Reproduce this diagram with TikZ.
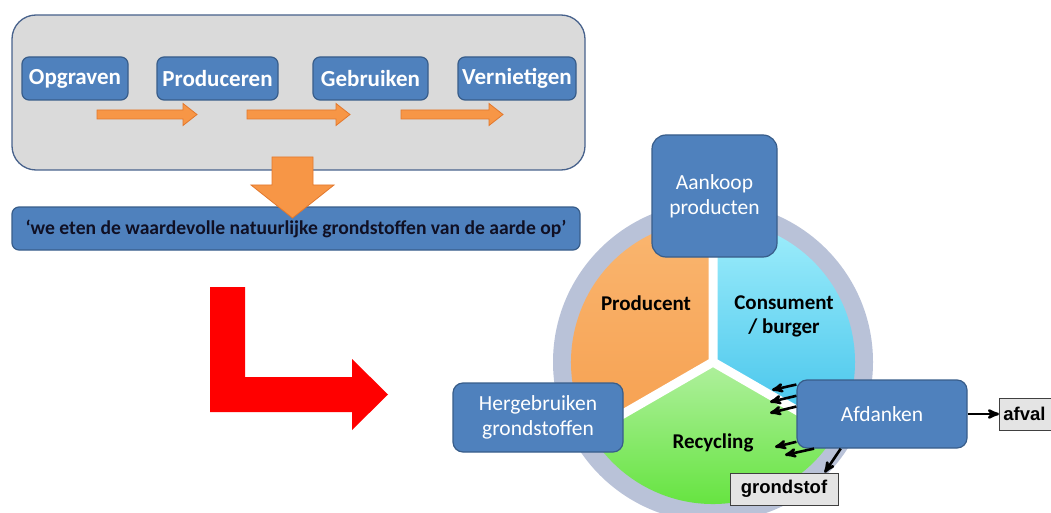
\documentclass[tikz,border=0pt]{standalone}
\usepackage{fontspec}
\setmainfont{Carlito}
\newfontfamily\arialfont{Liberation Sans}
\usetikzlibrary{arrows}

\definecolor{boxblue}{RGB}{79,129,189}
\definecolor{boxedge}{RGB}{56,93,138}
\definecolor{panelgray}{RGB}{218,218,218}
\definecolor{paneledge}{RGB}{72,98,140}
\definecolor{flow}{RGB}{247,150,70}
\definecolor{flowedge}{RGB}{226,120,45}
\definecolor{ringgray}{RGB}{185,194,216}
\definecolor{prodlight}{RGB}{250,182,112}
\definecolor{proddark}{RGB}{246,160,80}
\definecolor{conslight}{RGB}{160,238,252}
\definecolor{consdark}{RGB}{64,194,234}
\definecolor{recylight}{RGB}{176,240,158}
\definecolor{recydark}{RGB}{92,226,52}
\definecolor{quotetext}{RGB}{16,16,36}
\definecolor{taggray}{RGB}{228,228,228}

\begin{document}
\begin{tikzpicture}[x=1pt,y=-1pt,
    procbox/.style={draw=boxedge, line width=1.2pt, fill=boxblue, rounded corners=7pt,
      text=white, font=\fontsize{23}{26}\selectfont\bfseries, minimum height=43pt, inner sep=0pt},
    cyclebox/.style={draw=boxedge, line width=1.2pt, fill=boxblue, rounded corners=10pt,
      text=white, align=center, font=\fontsize{21.5}{25}\selectfont, inner sep=0pt},
    seclabel/.style={text=black, align=center, font=\fontsize{21}{24}\selectfont\bfseries},
    tagbox/.style={draw=black!75, line width=0.8pt, fill=taggray, minimum height=32pt,
      inner xsep=4pt, font=\arialfont\fontsize{18.5}{20}\selectfont\bfseries},
    flowarrow/.style={draw=flowedge, line width=0.8pt, fill=flow},
    smallarr/.style={->, >=stealth', line width=2.6pt, black}]
  \useasboundingbox (0,0) rectangle (1051,513);

  \node[draw=paneledge, line width=1.3pt, fill=panelgray, rounded corners=24pt,
    minimum width=573pt, minimum height=155pt] (panel) at (298.5,92.5) {};
  \node[procbox, minimum width=106pt] (opg) at (75,78.5) {Opgraven};
  \node[procbox, minimum width=121pt] (prod) at (217.5,78.5) {Produceren};
  \node[procbox, minimum width=115pt] (gebr) at (370.5,78.5) {Gebruiken};
  \node[procbox, minimum width=118pt] (vern) at (517,78.5) {Vernietigen};
  \filldraw[flowarrow] (97,110) -- (183,110) -- (183,103.5) -- (197,114.5) -- (183,125.5) -- (183,119) -- (97,119) -- cycle;
  \filldraw[flowarrow] (247,110) -- (336,110) -- (336,103.5) -- (350,114.5) -- (336,125.5) -- (336,119) -- (247,119) -- cycle;
  \filldraw[flowarrow] (401,110) -- (489,110) -- (489,103.5) -- (503,114.5) -- (489,125.5) -- (489,119) -- (401,119) -- cycle;

  \node[draw=boxedge, line width=1.2pt, fill=boxblue, rounded corners=7pt, minimum width=568pt,
    minimum height=43pt, inner sep=0pt, text=quotetext, font=\fontsize{19.6}{22}\selectfont\bfseries]
    (quote) at (296,228.5) {‘we eten de waardevolle natuurlijke grondstoffen van de aarde op’};
  \filldraw[flowarrow] (272,157) -- (313,157) -- (313,185) -- (334,185) -- (292.5,218) -- (251,185) -- (272,185) -- cycle;

  \fill[red] (210,287) -- (245,287) -- (245,377) -- (352,377) -- (352,359) -- (388,394.5)
    -- (352,430) -- (352,412) -- (210,412) -- cycle;

  \coordinate (c) at (713,362);
  \fill[ringgray] (c) circle[radius=160];
  \shade[top color=prodlight, bottom color=proddark] (c) -- ++(150:142) arc[start angle=150, end angle=270, radius=142] -- cycle;
  \shade[top color=conslight, bottom color=consdark] (c) -- ++(270:142) arc[start angle=270, end angle=390, radius=142] -- cycle;
  \shade[top color=recylight, bottom color=recydark] (c) -- ++(30:142) arc[start angle=30, end angle=150, radius=142] -- cycle;
  \draw[white, line width=9pt] (c) -- ++(270:142) (c) -- ++(30:142) (c) -- ++(150:142);
  \node[seclabel] (prodc) at (646,303) {Producent};
  \node[seclabel] (cons) at (784,316) {Consument\\/ burger};
  \node[seclabel] (recy) at (713,443) {Recycling};

  \node[cyclebox, minimum width=125pt, minimum height=122pt, rounded corners=14pt] (aank) at (714.5,196) {Aankoop\\producten};
  \node[cyclebox, minimum width=170pt, minimum height=69pt] (herg) at (538,417.5) {Hergebruiken\\grondstoffen};
  \node[cyclebox, minimum width=170pt, minimum height=68pt] (afd) at (882,414) {Afdanken};

  \node[tagbox, anchor=west, text width=60pt, align=left] (afval) at (999,414) {afval};
  \node[tagbox, minimum width=108pt] (grond) at (784,489) {grondstof};

  \coordinate (r1) at (772,390);
  \coordinate (r2) at (770,402);
  \coordinate (r3) at (770,413);
  \coordinate (r4) at (775,447);
  \coordinate (r5) at (785,455);
  \draw[smallarr] (afd.161) -- (r1);
  \draw[smallarr] (afd.168) -- (r2);
  \draw[smallarr] (afd.175) -- (r3);
  \draw[smallarr] (afd.198) -- (r4);
  \draw[smallarr] (afd.207) -- (r5);
  \draw[smallarr] (afd.east) -- (afval.west);
  \draw[smallarr] (afd.220) -- (grond.22);
\end{tikzpicture}
\end{document}
